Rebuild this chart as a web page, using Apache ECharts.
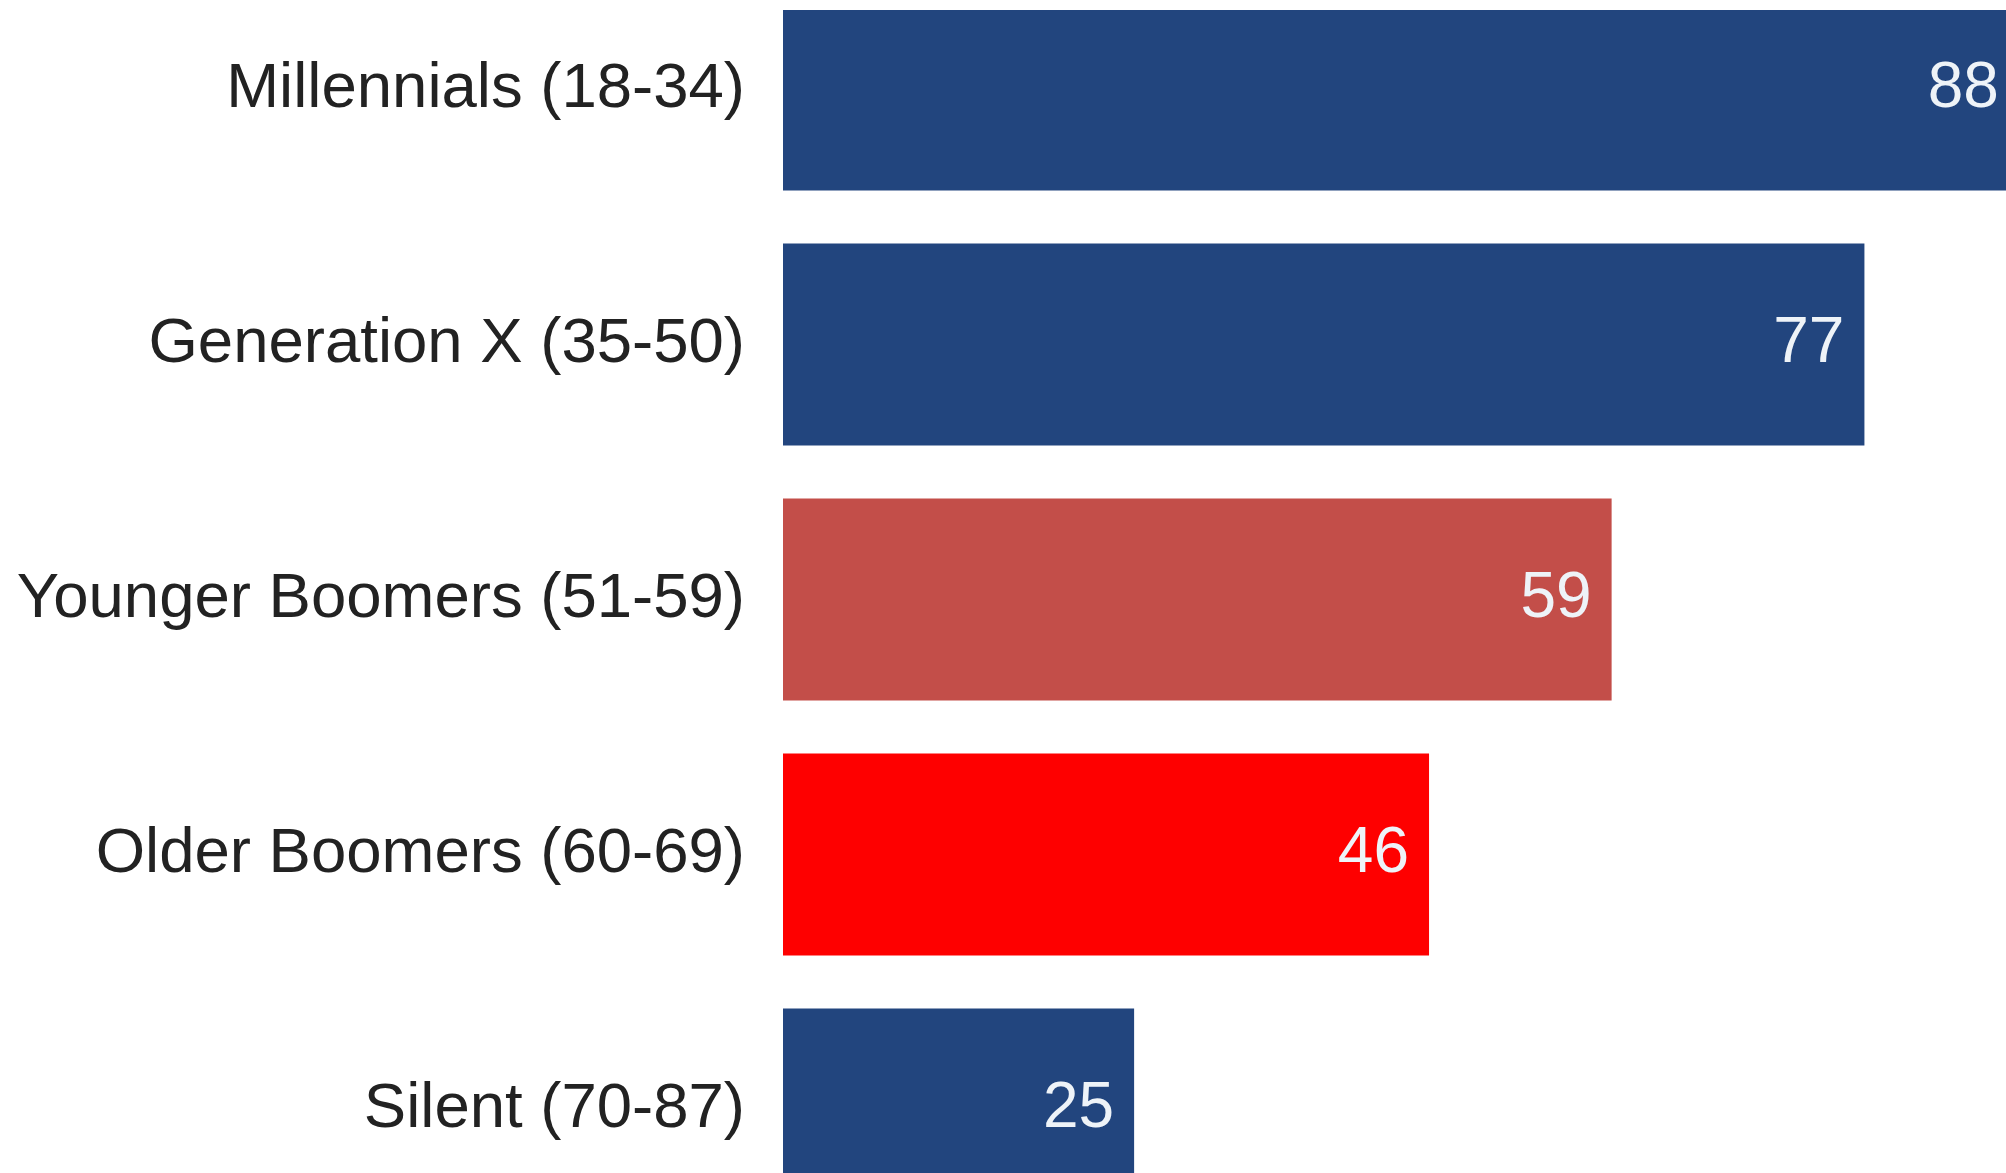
<!DOCTYPE html>
<html>
<head>
<meta charset="utf-8">
<style>
  html, body { margin: 0; padding: 0; background: #ffffff; }
  #chart { width: 2006px; height: 1173px; }
</style>
<script src="https://cdn.jsdelivr.net/npm/echarts@6/dist/echarts.min.js"></script>
</head>
<body>
<div id="chart"></div>
<script>
// Generations and their share (%)
const generations = [
  'Millennials (18-34)',
  'Generation X (35-50)',
  'Younger Boomers (51-59)',
  'Older Boomers (60-69)',
  'Silent (70-87)'
];
const shares = [88, 77, 59, 46, 25];
const barColors = ['#22457e', '#22457e', '#c34e49', '#fe0000', '#22457e'];

const chart = echarts.init(document.getElementById('chart'), null, { renderer: 'canvas' });

chart.setOption({
  backgroundColor: '#ffffff',
  animation: false,
  grid: {
    left: 783, right: -41, top: -38, bottom: -64,
    containLabel: false,
    outerBoundsMode: 'none'
  },
  xAxis: {
    type: 'value',
    min: 0,
    max: 90,
    show: false
  },
  yAxis: {
    type: 'category',
    data: generations,
    inverse: true,
    axisLine: { show: false },
    axisTick: { show: false },
    splitLine: { show: false },
    axisLabel: {
      margin: 38,
      fontSize: 63.5,
      fontFamily: '"Liberation Sans", Arial, Helvetica, sans-serif',
      color: '#222222'
    }
  },
  series: [{
    type: 'bar',
    barWidth: 202,
    data: shares.map((v, i) => ({ value: v, itemStyle: { color: barColors[i] } })),
    label: {
      show: true,
      position: 'insideRight',
      distance: 20,
      fontSize: 64,
      fontFamily: '"Liberation Sans", Arial, Helvetica, sans-serif',
      color: '#eef3f8'
    }
  }],
  // thin white strip along the top edge
  graphic: [{
    type: 'rect',
    z: 100,
    shape: { x: 0, y: 0, width: 2006, height: 10 },
    style: { fill: '#ffffff' }
  }]
});
</script>
</body>
</html>
